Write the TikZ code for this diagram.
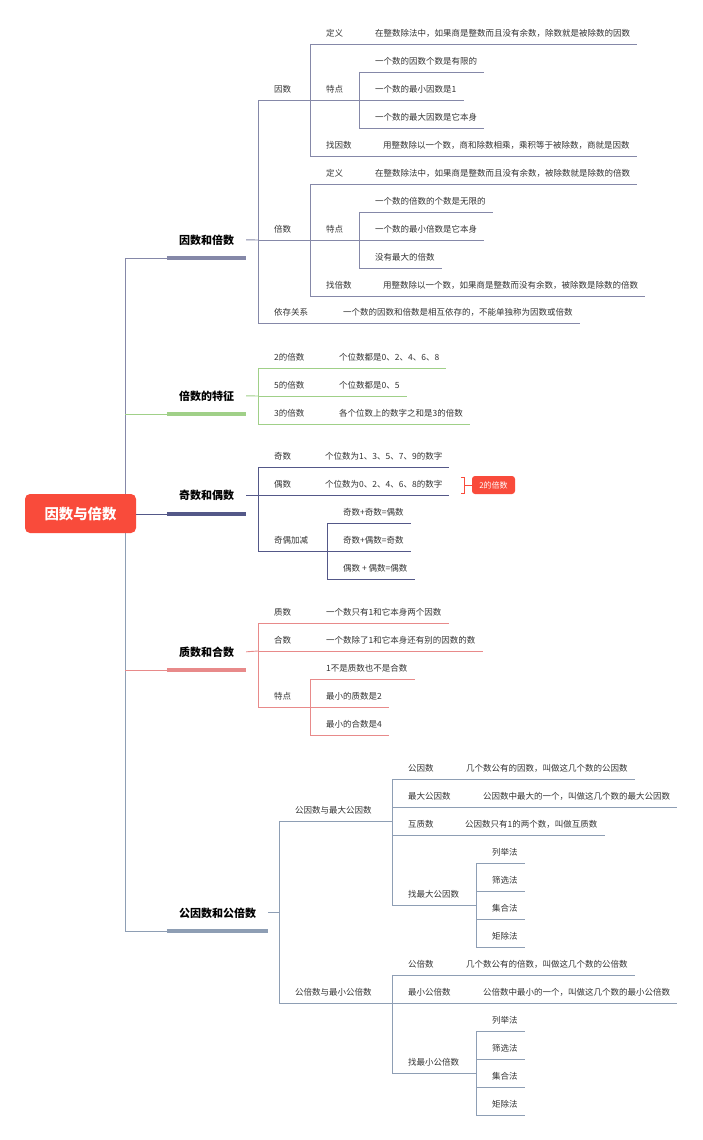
\documentclass[tikz,border=0pt]{standalone}
\usepackage{fontspec}
\setmainfont{Noto Sans CJK SC}
\definecolor{RootRed}{HTML}{F94B3B}
\definecolor{Slate}{HTML}{8588A8}
\definecolor{Leaf}{HTML}{A0D088}
\definecolor{Ink}{HTML}{545888}
\definecolor{Rose}{HTML}{E88A8A}
\definecolor{Steel}{HTML}{8E9EB4}
\definecolor{Txt}{HTML}{333333}
\tikzset{
  rootbox/.style={fill=RootRed, rounded corners=5pt, minimum width=111pt, minimum height=39pt,
    inner sep=0pt, text=white, font=\bfseries\fontsize{14.4}{16}\selectfont},
  branch/.style={anchor=south, minimum height=36pt, inner sep=0pt, text=black,
    font=\bfseries\fontsize{11}{13}\selectfont,
    append after command={(\tikzlastnode.south west) edge[line width=4pt, draw=#1] (\tikzlastnode.south east)}},
  topic/.style={anchor=south west, inner xsep=7pt, inner ysep=7pt, text height=7pt, text depth=0pt,
    text=Txt, font=\fontsize{8.5}{10}\selectfont, execute at begin node={\hspace*{9pt}},
    append after command={(\tikzlastnode.south west) edge[line width=0.9pt, draw=#1] (\tikzlastnode.south east)}},
  conn/.style={line width=0.9pt, draw=#1},
  sumbox/.style={fill=RootRed, rounded corners=3pt, minimum width=43pt, minimum height=18pt,
    inner sep=0pt, text=white, font=\fontsize{8}{10}\selectfont},
}
\begin{document}
\begin{tikzpicture}[x=1pt, y=-1pt]
  \useasboundingbox (0,0) rectangle (703,1140);
  \coordinate (trunk) at (125,514);

  % 因数和倍数
  \node[branch=Slate, minimum width=79pt] (yb) at (206.5,258) {因数和倍数};
  \node[topic=Slate] (yin) at (258,100) {因数};
  \node[topic=Slate] (yd) at (310,44) {定义};
  \node[topic=Slate] (ydl) at (359,44) {在整数除法中，如果商是整数而且没有余数，除数就是被除数的因数};
  \node[topic=Slate] (yt) at (310,100) {特点};
  \node[topic=Slate] (yt1) at (359,72) {一个数的因数个数是有限的};
  \node[topic=Slate] (yt2) at (359,100) {一个数的最小因数是1};
  \node[topic=Slate] (yt3) at (359,128) {一个数的最大因数是它本身};
  \node[topic=Slate] (yz) at (310,156) {找因数};
  \node[topic=Slate] (yzl) at (367,156) {用整数除以一个数，商和除数相乘，乘积等于被除数，商就是因数};
  \node[topic=Slate] (bei) at (258,240) {倍数};
  \node[topic=Slate] (bd) at (310,184) {定义};
  \node[topic=Slate] (bdl) at (359,184) {在整数除法中，如果商是整数而且没有余数，被除数就是除数的倍数};
  \node[topic=Slate] (bt) at (310,240) {特点};
  \node[topic=Slate] (bt1) at (359,212) {一个数的倍数的个数是无限的};
  \node[topic=Slate] (bt2) at (359,240) {一个数的最小倍数是它本身};
  \node[topic=Slate] (bt3) at (359,268) {没有最大的倍数};
  \node[topic=Slate] (bz) at (310,296) {找倍数};
  \node[topic=Slate] (bzl) at (367,296) {用整数除以一个数，如果商是整数而没有余数，被除数是除数的倍数};
  \node[topic=Slate] (yc) at (258,323) {依存关系};
  \node[topic=Slate] (ycl) at (327,323) {一个数的因数和倍数是相互依存的，不能单独称为因数或倍数};
  \draw[conn=Slate] (yb.east) -- (bei.south west);
  \draw[conn=Slate] (yin.south west) -- (yc.south west);
  \draw[conn=Slate] (yin.south east) -- (yt.south west);
  \draw[conn=Slate] (yd.south west) -- (yz.south west);
  \draw[conn=Slate] (yd.south east) -- (ydl.south west);
  \draw[conn=Slate] (yt.south east) -- (yt2.south west);
  \draw[conn=Slate] (yt1.south west) -- (yt3.south west);
  \draw[conn=Slate] (yz.south east) -- (yzl.south west);
  \draw[conn=Slate] (bei.south east) -- (bt.south west);
  \draw[conn=Slate] (bd.south west) -- (bz.south west);
  \draw[conn=Slate] (bd.south east) -- (bdl.south west);
  \draw[conn=Slate] (bt.south east) -- (bt2.south west);
  \draw[conn=Slate] (bt1.south west) -- (bt3.south west);
  \draw[conn=Slate] (bz.south east) -- (bzl.south west);
  \draw[conn=Slate] (yc.south east) -- (ycl.south west);

  % 倍数的特征
  \node[branch=Leaf, minimum width=79pt] (tz) at (206.5,414) {倍数的特征};
  \node[topic=Leaf] (t2) at (258,368) {2的倍数};
  \node[topic=Leaf] (t2l) at (323,368) {个位数都是0、2、4、6、8};
  \node[topic=Leaf] (t5) at (258,396) {5的倍数};
  \node[topic=Leaf] (t5l) at (323,396) {个位数都是0、5};
  \node[topic=Leaf] (t3) at (258,424) {3的倍数};
  \node[topic=Leaf] (t3l) at (323,424) {各个位数上的数字之和是3的倍数};
  \draw[conn=Leaf] (tz.east) -- (t5.south west);
  \draw[conn=Leaf] (t2.south west) -- (t3.south west);
  \draw[conn=Leaf] (t2.south east) -- (t2l.south west);
  \draw[conn=Leaf] (t5.south east) -- (t5l.south west);
  \draw[conn=Leaf] (t3.south east) -- (t3l.south west);

  % 奇数和偶数
  \node[branch=Ink, minimum width=79pt] (jo) at (206.5,514) {奇数和偶数};
  \node[topic=Ink] (ji) at (258,467) {奇数};
  \node[topic=Ink] (jil) at (309,467) {个位数为1、3、5、7、9的数字};
  \node[topic=Ink] (ou) at (258,495) {偶数};
  \node[topic=Ink] (oul) at (309,495) {个位数为0、2、4、6、8的数字};
  \node[topic=Ink] (jj) at (258,551) {奇偶加减};
  \node[topic=Ink] (jj1) at (327,523) {奇数+奇数=偶数};
  \node[topic=Ink] (jj2) at (327,551) {奇数+偶数=奇数};
  \node[topic=Ink] (jj3) at (327,579) {偶数 + 偶数=偶数};
  \node[sumbox] (sumb) at (493.5,485) {2的倍数};
  \draw[conn=Ink] (jo.east) -- (jo.east -| ji.south west);
  \draw[conn=Ink] (ji.south west) -- (jj.south west);
  \draw[conn=Ink] (ji.south east) -- (jil.south west);
  \draw[conn=Ink] (ou.south east) -- (oul.south west);
  \draw[conn=Ink] (jj.south east) -- (jj2.south west);
  \draw[conn=Ink] (jj1.south west) -- (jj3.south west);
  \draw[conn=RootRed] ([shift={(-11pt,8pt)}]sumb.west) -- ++(4pt,0) -- ++(0,-16pt) -- ++(-4pt,0);
  \draw[conn=RootRed] ([xshift=-7pt]sumb.west) -- (sumb.west);

  % 质数和合数
  \node[branch=Rose, minimum width=79pt] (zh) at (206.5,670) {质数和合数};
  \node[topic=Rose] (zs) at (258,623) {质数};
  \node[topic=Rose] (zsl) at (310,623) {一个数只有1和它本身两个因数};
  \node[topic=Rose] (hs) at (258,651) {合数};
  \node[topic=Rose] (hsl) at (310,651) {一个数除了1和它本身还有别的因数的数};
  \node[topic=Rose] (td) at (258,707) {特点};
  \node[topic=Rose] (td1) at (310,679) {1不是质数也不是合数};
  \node[topic=Rose] (td2) at (310,707) {最小的质数是2};
  \node[topic=Rose] (td3) at (310,735) {最小的合数是4};
  \draw[conn=Rose] (zh.east) -- (hs.south west);
  \draw[conn=Rose] (zs.south west) -- (td.south west);
  \draw[conn=Rose] (zs.south east) -- (zsl.south west);
  \draw[conn=Rose] (hs.south east) -- (hsl.south west);
  \draw[conn=Rose] (td.south east) -- (td2.south west);
  \draw[conn=Rose] (td1.south west) -- (td3.south west);

  % 公因数和公倍数
  \node[branch=Steel, minimum width=101pt] (gg) at (217.5,931) {公因数和公倍数};
  \node[topic=Steel] (gy) at (279,821) {公因数与最大公因数};
  \node[topic=Steel] (gy1) at (392,779) {公因数};
  \node[topic=Steel] (gy1l) at (450,779) {几个数公有的因数，叫做这几个数的公因数};
  \node[topic=Steel] (gy2) at (392,807) {最大公因数};
  \node[topic=Steel] (gy2l) at (467,807) {公因数中最大的一个，叫做这几个数的最大公因数};
  \node[topic=Steel] (gy3) at (392,835) {互质数};
  \node[topic=Steel] (gy3l) at (449,835) {公因数只有1的两个数，叫做互质数};
  \node[topic=Steel] (gy4) at (392,905) {找最大公因数};
  \node[topic=Steel] (m1) at (476,863) {列举法};
  \node[topic=Steel] (m2) at (476,891) {筛选法};
  \node[topic=Steel] (m3) at (476,919) {集合法};
  \node[topic=Steel] (m4) at (476,947) {矩除法};
  \node[topic=Steel] (gb) at (279,1003) {公倍数与最小公倍数};
  \node[topic=Steel] (gb1) at (392,975) {公倍数};
  \node[topic=Steel] (gb1l) at (450,975) {几个数公有的倍数，叫做这几个数的公倍数};
  \node[topic=Steel] (gb2) at (392,1003) {最小公倍数};
  \node[topic=Steel] (gb2l) at (467,1003) {公倍数中最小的一个，叫做这几个数的最小公倍数};
  \node[topic=Steel] (gb3) at (392,1073) {找最小公倍数};
  \node[topic=Steel] (n1) at (476,1031) {列举法};
  \node[topic=Steel] (n2) at (476,1059) {筛选法};
  \node[topic=Steel] (n3) at (476,1087) {集合法};
  \node[topic=Steel] (n4) at (476,1115) {矩除法};
  \draw[conn=Steel] (gg.east) -- (gg.east -| gy.south west);
  \draw[conn=Steel] (gy.south west) -- (gb.south west);
  \draw[conn=Steel] (gy.south east) -- (gy.south east -| gy1.south west);
  \draw[conn=Steel] (gy1.south west) -- (gy4.south west);
  \draw[conn=Steel] (gy1.south east) -- (gy1l.south west);
  \draw[conn=Steel] (gy2.south east) -- (gy2l.south west);
  \draw[conn=Steel] (gy3.south east) -- (gy3l.south west);
  \draw[conn=Steel] (gy4.south east) -- (gy4.south east -| m1.south west);
  \draw[conn=Steel] (m1.south west) -- (m4.south west);
  \draw[conn=Steel] (gb.south east) -- (gb2.south west);
  \draw[conn=Steel] (gb1.south west) -- (gb3.south west);
  \draw[conn=Steel] (gb1.south east) -- (gb1l.south west);
  \draw[conn=Steel] (gb2.south east) -- (gb2l.south west);
  \draw[conn=Steel] (gb3.south east) -- (gb3.south east -| n1.south west);
  \draw[conn=Steel] (n1.south west) -- (n4.south west);

  % trunk and root
  \draw[conn=Slate] (trunk) |- (yb.south west);
  \draw[conn=Steel] (trunk) |- (gg.south west);
  \draw[conn=Leaf] (tz.south west -| trunk) -- (tz.south west);
  \draw[conn=Rose] (zh.south west -| trunk) -- (zh.south west);
  \draw[conn=Ink] (trunk) -- (jo.south west);
  \node[rootbox] (root) at (80.5,513.5) {因数与倍数};
\end{tikzpicture}
\end{document}
